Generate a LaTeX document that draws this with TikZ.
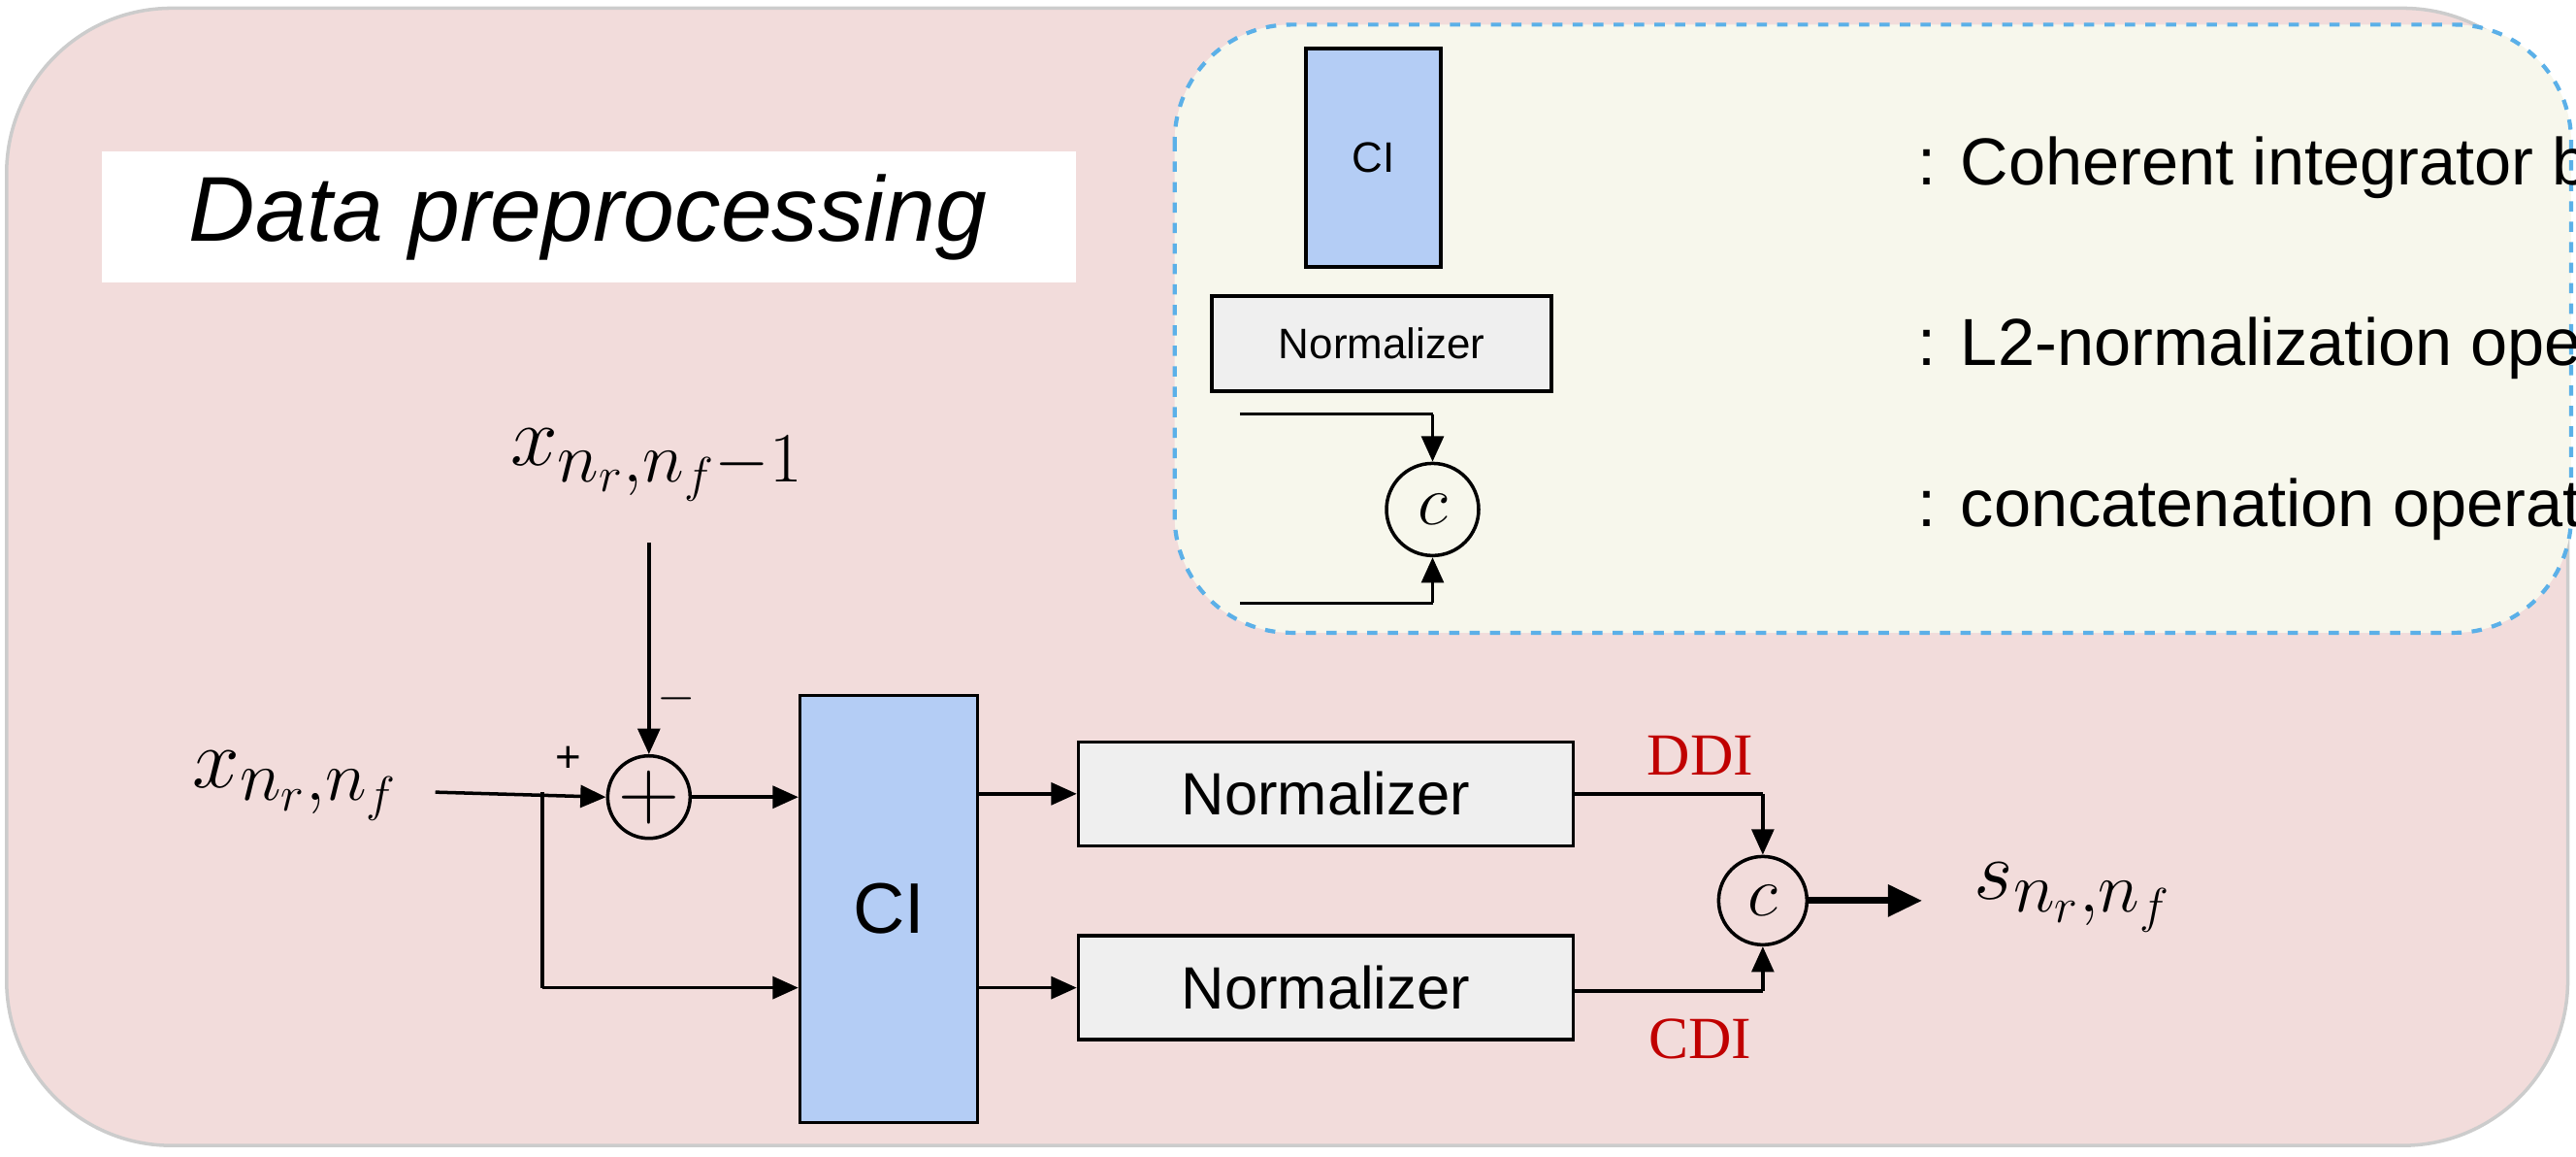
\documentclass[tikz,border=0pt]{standalone}
\usepackage{fontspec}
\setmainfont{Liberation Sans}
\newfontfamily\serifx{Liberation Serif}
\usetikzlibrary{arrows.meta}
\definecolor{bgpink}{HTML}{F2DCDB}
\definecolor{legbg}{HTML}{F7F7EC}
\definecolor{legline}{HTML}{5BB0E8}
\definecolor{ciblue}{HTML}{B4CDF5}
\definecolor{normgray}{HTML}{EFEFEF}
\definecolor{lblred}{HTML}{C00000}
\begin{document}
\begin{tikzpicture}[x=0.016932cm,y=-0.016932cm,
  conn/.style={draw,line width=1pt,-{Triangle[length=7.5pt,width=6.5pt]}},
  plain/.style={draw,line width=1pt},
  blk/.style={draw=black,line width=1pt,inner sep=0pt},
  circ/.style={circle,draw,line width=1pt,inner sep=0pt},
  sans/.style={font=\fontsize{17.5}{20}\selectfont},
  legtxt/.style={font=\fontsize{19.5}{22}\selectfont,anchor=west},
  red/.style={text=lblred,font=\serifx\fontsize{17.5}{20}\selectfont}]
\useasboundingbox (0,0) rectangle (1568,703.4);
\draw[fill=bgpink,draw=gray!40,line width=1pt,rounded corners=1.7cm] (4,5) rectangle (1563,697);
\fill[white] (62,92) rectangle (655,172);
\node[font=\itshape\fontsize{27}{32}\selectfont] (title) at (358,132) {Data preprocessing};
% legend
\draw[fill=legbg,draw=legline,dashed,line width=1.2pt,rounded corners=1.2cm] (715,15) rectangle (1565,385);
\node[blk,fill=ciblue,minimum width=82\pgflinewidth,minimum height=133\pgflinewidth,font=\fontsize{12.5}{15}\selectfont,minimum width=1.39cm,minimum height=2.25cm] (lci) at (836,96) {CI};
\node[blk,fill=normgray,minimum width=3.5cm,minimum height=0.98cm,font=\fontsize{12.5}{15}\selectfont] (lnorm) at (841,209) {Normalizer};
\node[circ,minimum size=0.95cm,font=\fontsize{20}{24}\selectfont] (lc) at (872,310) {$c$};
\coordinate (la) at (755,252); \coordinate (lak) at (872,252);
\coordinate (lb) at (755,367); \coordinate (lbk) at (872,367);
\draw[plain] (la) -- (lak); \draw[conn] (lak) -- (lc.north);
\draw[plain] (lb) -- (lbk); \draw[conn] (lbk) -- (lc.south);
\node[legtxt] (t1) at (1160,102) {: Coherent integrator by DFT};
\node[legtxt] (t2) at (1160,212) {: L2-normalization operator};
\node[legtxt] (t3) at (1160,310) {: concatenation operator};
% main
\node[font=\fontsize{30}{34}\selectfont] (xin) at (180,478) {$x_{n_r,n_f}$};
\node[font=\fontsize{30}{34}\selectfont] (xprev) at (400,283) {$x_{n_r,n_f-1}$};
\node[circ,minimum size=0.85cm,font=\fontsize{23}{26}\selectfont] (sum) at (395,485) {$+$};
\node[blk,fill=ciblue,minimum width=1.83cm,minimum height=4.4cm,font=\fontsize{21}{25}\selectfont] (ci) at (541,553) {CI};
\node[blk,fill=normgray,minimum width=5.1cm,minimum height=1.07cm,sans] (n1) at (807,483) {Normalizer};
\node[blk,fill=normgray,minimum width=5.1cm,minimum height=1.07cm,sans] (n2) at (807,601) {Normalizer};
\node[circ,minimum size=0.91cm,font=\fontsize{20}{24}\selectfont] (cc) at (1073,548) {$c$};
\node[font=\fontsize{30}{34}\selectfont] (sout) at (1262,546) {$s_{n_r,n_f}$};
\coordinate (xs) at (265,482);
\coordinate (br) at (330,482);
\coordinate (brd) at (330,601);
\coordinate (xt) at (395,330);
\draw[conn] (xs) -- (sum.west);
\draw[conn] (xt) -- (sum.north);
\node[font=\fontsize{13}{15}\selectfont] (plus) at (346,462) {+};
\node[font=\fontsize{15}{17}\selectfont] (minus) at (412,425) {$-$};
\draw[plain] (br) -- (brd);
\draw[conn] (brd) -- (brd -| ci.west);
\draw[conn] (sum.east) -- (sum -| ci.west);
\draw[conn] (ci.east |- n1) -- (n1.west);
\draw[conn] (ci.east |- n2) -- (n2.west);
\coordinate (k1) at (1073,483); \coordinate (k2) at (1073,603);
\draw[plain] (n1.east) -- (k1); \draw[conn] (k1) -- (cc.north);
\draw[plain] (n2.east |- k2) -- (k2); \draw[conn] (k2) -- (cc.south);
\draw[line width=2pt,-{Triangle[length=10pt,width=9pt]}] (cc.east) -- (1170,548);
\node[red] (ddi) at (1035,460) {DDI};
\node[red] (cdi) at (1035,632) {CDI};
\end{tikzpicture}
\end{document}
